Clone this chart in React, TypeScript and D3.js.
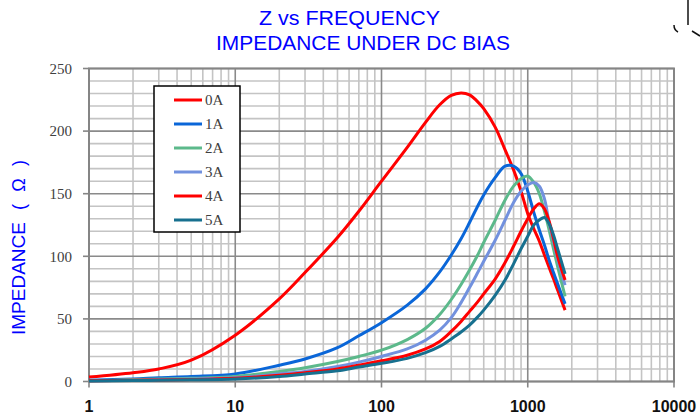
import { useEffect, useRef } from "react";
import * as d3 from "d3";

// frequency points (shared by all series)
const freqs = [1, 2, 3, 5, 10, 20, 30, 50, 70, 100, 150, 200, 250, 300, 350, 400, 450, 500, 600, 700, 800, 900, 1000, 1100, 1200, 1300, 1400, 1500, 1600, 1800];

const seriesNames = ["0A", "1A", "2A", "3A", "4A", "5A"];
const seriesColors = ["#ff0000", "#0a66d8", "#5cb98b", "#7291de", "#ff0000", "#17708f"];

const z0A = [3.5, 7, 10, 17, 37, 66, 87, 115, 136, 160, 187, 207, 221, 228.5, 230.5, 229, 224, 218, 203, 185, 169, 152, 134, 122, 112, 101, 91, 82, 73, 57];
const z1A = [1, 2, 3, 4, 6, 13, 18, 27, 36.5, 47, 61, 74, 87.5, 101, 114, 127, 139, 149, 163, 172, 172, 166, 152, 135, 121, 109, 97, 87, 78, 62];
const z2A = [0.5, 1.5, 2, 2.5, 4, 8, 11, 16, 20, 25, 33.5, 42.5, 53.5, 65.5, 77.5, 89, 100, 111, 129, 145, 156, 162, 164, 159, 150, 136, 121, 106, 92, 68];
const z3A = [0.5, 1, 1.5, 2, 3, 6, 8, 12, 15.5, 20, 26, 33, 41, 51, 63, 75, 86, 96, 113, 129, 143, 152, 157, 159, 156, 146, 127, 112, 98, 77];
const z4A = [0.5, 1, 1.2, 1.5, 2.5, 5, 7, 10, 13, 16.5, 21, 26, 32, 40, 48, 56, 63, 70, 82, 95, 108, 120, 130, 138, 142, 138, 128, 114, 100, 81];
const z5A = [0.3, 0.7, 1, 1.3, 2, 4, 6, 8.5, 11.5, 14.5, 18.5, 23, 28, 34, 39.5, 45, 51, 57, 69, 81, 94, 106, 116, 125, 129, 131, 126, 117, 106, 86];
const seriesValues = [z0A, z1A, z2A, z3A, z4A, z5A];

const xTicks = [1, 10, 100, 1000, 10000];
const yTicks = [0, 50, 100, 150, 200, 250];

export default function App() {
  const ref = useRef<SVGSVGElement | null>(null);

  useEffect(() => {
    if (!ref.current) return;
    const svg = d3.select(ref.current);
    svg.selectAll("*").remove();

    const left = 89, right = 674, top = 68.5, bottom = 381.5;
    const x = d3.scaleLog().domain([1, 10000]).range([left, right]);
    const y = d3.scaleLinear().domain([0, 250]).range([bottom, top]);

    // title
    svg.append("text").attr("x", 259).attr("y", 25).attr("textLength", 181).attr("lengthAdjust", "spacingAndGlyphs")
      .attr("font-family", "Liberation Sans Narrow, Liberation Sans, sans-serif").attr("font-size", 21).attr("fill", "#0000ff")
      .text("Z vs FREQUENCY");
    svg.append("text").attr("x", 216).attr("y", 50).attr("textLength", 294).attr("lengthAdjust", "spacingAndGlyphs")
      .attr("font-family", "Liberation Sans Narrow, Liberation Sans, sans-serif").attr("font-size", 21).attr("fill", "#0000ff")
      .text("IMPEDANCE UNDER DC BIAS");

    // odd mark top right
    const mark = svg.append("g").attr("stroke", "#111").attr("stroke-width", 1.5).attr("fill", "none");
    mark.append("path").attr("d", "M688,0 L688,25");
    mark.append("path").attr("d", "M674,25 Q674,30 678,32");
    mark.append("path").attr("d", "M692,31 L700,36");

    // grid
    const grid = svg.append("g");
    const minorY = d3.range(0, 251, 10).filter((v) => v % 50 !== 0);
    grid.selectAll(".hy").data(minorY).join("line")
      .attr("x1", left).attr("x2", right).attr("y1", (d) => y(d)).attr("y2", (d) => y(d))
      .attr("stroke", "#c4c4c4").attr("stroke-width", 1.6);
    const minorX: number[] = [];
    for (let p = 0; p < 4; p++) for (let m = 2; m <= 9; m++) minorX.push(m * Math.pow(10, p));
    grid.selectAll(".vx").data(minorX).join("line")
      .attr("x1", (d) => x(d)).attr("x2", (d) => x(d)).attr("y1", top).attr("y2", bottom)
      .attr("stroke", "#c4c4c4").attr("stroke-width", 1.6);
    grid.selectAll(".my").data(yTicks).join("line")
      .attr("x1", left).attr("x2", right).attr("y1", (d) => y(d)).attr("y2", (d) => y(d))
      .attr("stroke", "#8a8a8a").attr("stroke-width", 1.6);
    grid.selectAll(".mx").data(xTicks).join("line")
      .attr("x1", (d) => x(d)).attr("x2", (d) => x(d)).attr("y1", top).attr("y2", bottom)
      .attr("stroke", "#8a8a8a").attr("stroke-width", 1.6);

    // frame
    svg.append("rect").attr("x", left).attr("y", top).attr("width", right - left).attr("height", bottom - top)
      .attr("fill", "none").attr("stroke", "#858585").attr("stroke-width", 2);

    // ticks
    svg.append("g").selectAll("line").data(yTicks).join("line")
      .attr("x1", left - 6).attr("x2", left).attr("y1", (d) => y(d)).attr("y2", (d) => y(d))
      .attr("stroke", "#858585").attr("stroke-width", 1.6);
    svg.append("g").selectAll("line").data(xTicks).join("line")
      .attr("x1", (d) => x(d)).attr("x2", (d) => x(d)).attr("y1", bottom).attr("y2", bottom + 6)
      .attr("stroke", "#858585").attr("stroke-width", 1.6);

    // tick labels
    svg.append("g").selectAll("text").data(yTicks).join("text")
      .attr("x", 72).attr("y", (d) => y(d)).attr("dy", "0.35em").attr("text-anchor", "end")
      .attr("font-family", "Liberation Serif, serif").attr("font-size", 15).attr("fill", "#404040")
      .text((d) => String(d));
    svg.append("g").selectAll("text").data(xTicks).join("text")
      .attr("x", (d) => x(d)).attr("y", 412).attr("text-anchor", "middle")
      .attr("font-family", "Liberation Sans, Arial, sans-serif").attr("font-weight", "bold").attr("font-size", 16).attr("fill", "#111")
      .text((d) => String(d));

    // y axis label
    const yl = svg.append("g").attr("transform", "translate(25,0) rotate(-90)");
    yl.append("text").attr("x", -335).attr("y", 0).attr("textLength", 113).attr("lengthAdjust", "spacingAndGlyphs")
      .attr("font-family", "Liberation Sans, Arial, sans-serif").attr("font-size", 18).attr("fill", "#0000ff")
      .text("IMPEDANCE");
    yl.append("text").attr("x", -210).attr("y", 0).attr("textLength", 50).attr("lengthAdjust", "spacing")
      .attr("font-family", "Liberation Sans, Arial, sans-serif").attr("font-size", 18).attr("fill", "#0000ff")
      .text("( Ω )");

    // curves
    const line = d3.line<number>()
      .x((_, i) => x(freqs[i]))
      .y((d) => y(d))
      .curve(d3.curveCatmullRom.alpha(0.5));
    svg.append("g").attr("fill", "none").selectAll("path").data(seriesValues).join("path")
      .attr("d", (d) => line(d))
      .attr("stroke", (_, i) => seriesColors[i])
      .attr("stroke-width", 3)
      .attr("stroke-linejoin", "round");

    // legend
    const lg = svg.append("g");
    lg.append("rect").attr("x", 154).attr("y", 86).attr("width", 86).attr("height", 146)
      .attr("fill", "#fff").attr("stroke", "#000").attr("stroke-width", 1.5);
    seriesNames.forEach((name, i) => {
      const ly = 100 + i * 24;
      lg.append("line").attr("x1", 174).attr("x2", 202).attr("y1", ly).attr("y2", ly)
        .attr("stroke", seriesColors[i]).attr("stroke-width", 3);
      lg.append("text").attr("x", 205).attr("y", ly).attr("dy", "0.35em")
        .attr("font-family", "Liberation Serif, serif").attr("font-size", 15).attr("fill", "#404040")
        .text(name);
    });
  }, []);

  return (
    <svg ref={ref} width={700} height={417}
      style={{ position: "absolute", left: 0, top: 0, display: "block", background: "#fff" }} />
  );
}
